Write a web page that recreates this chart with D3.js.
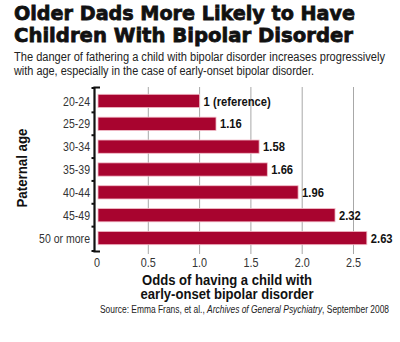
<!DOCTYPE html>
<html>
<head>
<meta charset="utf-8">
<script src="https://cdn.jsdelivr.net/npm/d3@7"></script>
<style>
	body { margin: 0; background: #fff; }
	svg { display: block; }
	.narrow { font-family: "Liberation Sans", "Roboto", sans-serif; }
	.heavy { font-family: "DejaVu Sans", "Liberation Sans", sans-serif; font-weight: bold; }
	.bold { font-family: "Liberation Sans", "Roboto", sans-serif; font-weight: bold; }
</style>
</head>
<body>
<svg class="chart" width="400" height="342"></svg>
<script>
var ages = ["20-24", "25-29", "30-34", "35-39", "40-44", "45-49", "50 or more"],
	odds = [1, 1.16, 1.58, 1.66, 1.96, 2.32, 2.63],
	valueLabels = ["1 (reference)", "1.16", "1.58", "1.66", "1.96", "2.32", "2.63"],
	ticks = [0, 0.5, 1.0, 1.5, 2.0, 2.5],
	tickLabels = ["0", "0.5", "1.0", "1.5", "2.0", "2.5"];

var data = ages.map(function (a, i) {
	return {key: a, value: odds[i], label: valueLabels[i]};
});

var svg = d3.select(".chart");

var x = d3.scaleLinear().domain([0, 2.5]).range([97, 353.5]),
	y = d3.scaleBand()
		.domain(ages)
		.range([87, 252])
		.paddingInner(0.42)
		.paddingOuter(0.32);

// 把文字壓窄，做出窄體字的效果
function squeeze(sel, k) {
	sel.each(function () {
		var w = this.getComputedTextLength();
		d3.select(this)
			.attr("textLength", w * k)
			.attr("lengthAdjust", "spacingAndGlyphs");
	});
}

// 標題
var title = svg.append("g").attr("class", "heavy").attr("fill", "#111");
title.append("text").attr("x", 14).attr("y", 20).attr("font-size", "20px")
	.attr("textLength", 341).attr("lengthAdjust", "spacingAndGlyphs")
	.attr("stroke", "#111").attr("stroke-width", 0.8)
	.text("Older Dads More Likely to Have");
title.append("text").attr("x", 14).attr("y", 42).attr("font-size", "20px")
	.attr("textLength", 339).attr("lengthAdjust", "spacingAndGlyphs")
	.attr("stroke", "#111").attr("stroke-width", 0.8)
	.text("Children With Bipolar Disorder");

var sub = svg.append("g").attr("class", "narrow").attr("fill", "#222").attr("font-size", "12.5px");
sub.append("text").attr("x", 14).attr("y", 61)
	.attr("textLength", 371).attr("lengthAdjust", "spacingAndGlyphs")
	.text("The danger of fathering a child with bipolar disorder increases progressively");
sub.append("text").attr("x", 14).attr("y", 75)
	.attr("textLength", 300).attr("lengthAdjust", "spacingAndGlyphs")
	.text("with age, especially in the case of early-onset bipolar disorder.");

// 格線
svg.append("g")
	.selectAll("line")
	.data(ticks.slice(1))
	.enter()
	.append("line")
	.attr("x1", function (d) { return x(d); })
	.attr("x2", function (d) { return x(d); })
	.attr("y1", 87)
	.attr("y2", 254)
	.attr("stroke", "#a8a8a8")
	.attr("stroke-width", 1);

// 長條
svg.append("g")
	.selectAll("rect")
	.data(data)
	.enter()
	.append("rect")
	.attr("x", x(0) + 1)
	.attr("y", function (d) { return y(d.key); })
	.attr("width", function (d) { return x(d.value) - x(0) - 1; })
	.attr("height", y.bandwidth())
	.attr("fill", "#a8042f")
	.attr("stroke", "#f2bcc8")
	.attr("stroke-width", 0.8);

var vals = svg.append("g")
	.attr("class", "bold")
	.attr("font-size", "13px")
	.attr("fill", "#111")
	.selectAll("text")
	.data(data)
	.enter()
	.append("text")
	.attr("x", function (d) { return x(d.value) + 4; })
	.attr("y", function (d) { return y(d.key) + y.bandwidth() / 2; })
	.attr("dy", "0.36em")
	.text(function (d) { return d.label; });
squeeze(vals, 0.86);

// 縱軸
var axis = svg.append("g").attr("stroke", "#111").attr("fill", "none");
axis.append("path")
	.attr("d", "M100,87.5H94.5V251.5H100")
	.attr("stroke-width", 2.2);
var bounds = ages.slice(1).map(function (a) {
	return y(a) - y.step() * y.paddingInner() / 2;
});
axis.selectAll("line")
	.data(bounds)
	.enter()
	.append("line")
	.attr("x1", 91.5)
	.attr("x2", 95)
	.attr("y1", function (d) { return d; })
	.attr("y2", function (d) { return d; })
	.attr("stroke-width", 2);
axis.append("line").attr("x1", 91.5).attr("x2", 95).attr("y1", 88).attr("y2", 88).attr("stroke-width", 2);
axis.append("line").attr("x1", 91.5).attr("x2", 95).attr("y1", 251).attr("y2", 251).attr("stroke-width", 2);

var ylabels = svg.append("g")
	.attr("class", "narrow")
	.attr("font-size", "13px")
	.attr("fill", "#333")
	.attr("text-anchor", "end")
	.selectAll("text")
	.data(ages)
	.enter()
	.append("text")
	.attr("x", 90)
	.attr("y", function (d) { return y(d) + y.bandwidth() / 2; })
	.attr("dy", "0.36em")
	.text(function (d) { return d; });
squeeze(ylabels, 0.81);

svg.append("text")
	.attr("class", "bold")
	.attr("font-size", "15px")
	.attr("fill", "#111")
	.attr("text-anchor", "middle")
	.attr("textLength", 79)
	.attr("lengthAdjust", "spacingAndGlyphs")
	.attr("transform", "translate(27,168) rotate(-90)")
	.text("Paternal age");

// 橫軸刻度
var xlabels = svg.append("g")
	.attr("class", "narrow")
	.attr("font-size", "13.5px")
	.attr("fill", "#333")
	.attr("text-anchor", "middle")
	.selectAll("text")
	.data(ticks)
	.enter()
	.append("text")
	.attr("x", function (d) { return x(d); })
	.attr("y", 267)
	.text(function (d, i) { return tickLabels[i]; });
squeeze(xlabels, 0.8);

var xt = svg.append("g").attr("class", "bold").attr("font-size", "14px")
	.attr("fill", "#111").attr("text-anchor", "middle");
xt.append("text").attr("x", 227).attr("y", 285)
	.attr("textLength", 170).attr("lengthAdjust", "spacingAndGlyphs")
	.text("Odds of having a child with");
xt.append("text").attr("x", 227).attr("y", 299)
	.attr("textLength", 173).attr("lengthAdjust", "spacingAndGlyphs")
	.text("early-onset bipolar disorder");

var src = svg.append("text")
	.attr("class", "narrow")
	.attr("font-size", "10px")
	.attr("fill", "#222")
	.attr("x", 100)
	.attr("y", 313)
	.attr("textLength", 289)
	.attr("lengthAdjust", "spacingAndGlyphs");
src.append("tspan").text("Source: Emma Frans, et al., ");
src.append("tspan").attr("font-style", "italic").text("Archives of General Psychiatry");
src.append("tspan").text(", September 2008");
</script>
</body>
</html>
